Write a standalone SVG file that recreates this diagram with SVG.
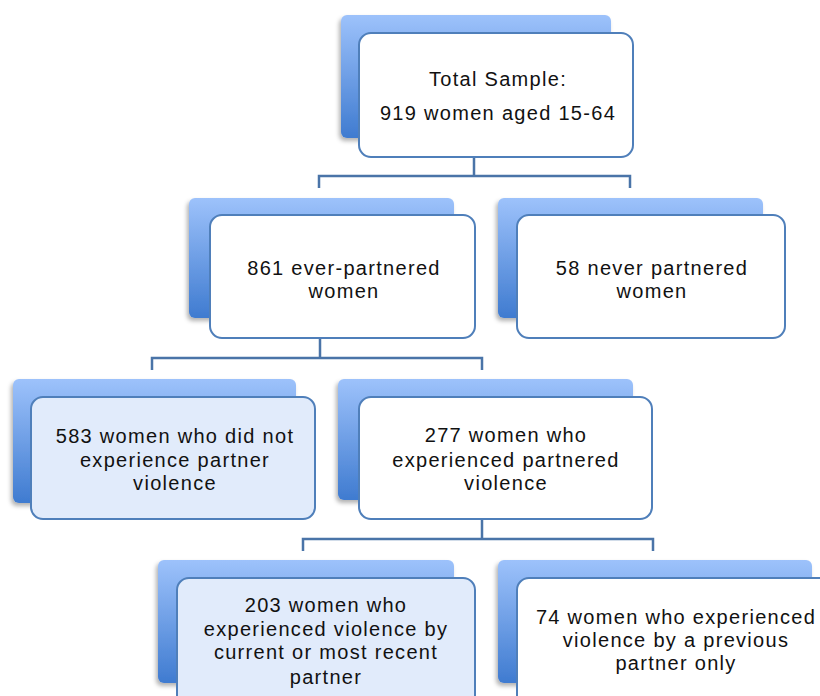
<svg xmlns="http://www.w3.org/2000/svg" width="820" height="696" viewBox="0 0 820 696">
  <defs>
    <linearGradient id="g" x1="0" y1="0" x2="0" y2="1">
      <stop offset="0" stop-color="#9dc2fb"/>
      <stop offset="1" stop-color="#3f7bd0"/>
    </linearGradient>
    <filter id="sh" x="-10%" y="-10%" width="120%" height="125%">
      <feDropShadow dx="-2" dy="3" stdDeviation="2" flood-color="#000" flood-opacity="0.3"/>
    </filter>
  </defs>
  <style>
    .back { fill: url(#g); filter: url(#sh); }
    .front { fill: #ffffff; stroke: #4f7fba; stroke-width: 2; }
    .front.lb { fill: #e1ebfb; }
    .conn { fill: none; stroke: #4a74a8; stroke-width: 2.5; }
    text { font-family: "Liberation Sans", Arial, sans-serif; font-size: 20px; fill: #111; text-anchor: middle; letter-spacing: 1.3px; }
  </style>
  <rect width="820" height="696" fill="#ffffff"/>

  <g id="connectors">
    <path class="conn" d="M474 157 V176 M319 188 V176 H630 V188"/>
    <path class="conn" d="M320 338 V358 M152 370 V358 H482 V370"/>
    <path class="conn" d="M482 519 V539 M303 551 V539 H653 V551"/>
  </g>

  <g id="n1">
    <rect class="back" x="341" y="15" width="270" height="123" rx="6"/>
    <rect class="front" x="359" y="33" width="274" height="124" rx="12"/>
    <text x="498" y="86">Total Sample:</text>
    <text x="498" y="120">919 women aged 15-64</text>
  </g>

  <g id="n2">
    <rect class="back" x="189" y="198" width="265" height="120" rx="6"/>
    <rect class="front" x="210" y="215" width="265" height="123" rx="12"/>
    <text x="344" y="275">861 ever-partnered</text>
    <text x="344" y="298">women</text>
  </g>

  <g id="n3">
    <rect class="back" x="498" y="198" width="265" height="120" rx="6"/>
    <rect class="front" x="517" y="215" width="268" height="123" rx="12"/>
    <text x="652" y="275">58 never partnered</text>
    <text x="652" y="298">women</text>
  </g>

  <g id="n4">
    <rect class="back" x="13" y="379" width="283" height="124" rx="6"/>
    <rect class="front lb" x="31" y="397" width="284" height="122" rx="12"/>
    <text x="175" y="443">583 women who did not</text>
    <text x="175" y="467">experience partner</text>
    <text x="175" y="490">violence</text>
  </g>

  <g id="n5">
    <rect class="back" x="338" y="379" width="295" height="121" rx="6"/>
    <rect class="front" x="359" y="397" width="293" height="122" rx="12"/>
    <text x="506" y="442">277 women who</text>
    <text x="506" y="467">experienced partnered</text>
    <text x="506" y="490">violence</text>
  </g>

  <g id="n6">
    <rect class="back" x="158" y="560" width="296" height="123" rx="6"/>
    <rect class="front lb" x="177" y="578" width="298" height="130" rx="12"/>
    <text x="326" y="612">203 women who</text>
    <text x="326" y="636">experienced violence by</text>
    <text x="326" y="659">current or most recent</text>
    <text x="326" y="684">partner</text>
  </g>

  <g id="n7">
    <rect class="back" x="498" y="560" width="314" height="123" rx="6"/>
    <rect class="front" x="517" y="578" width="320" height="130" rx="12"/>
    <text x="676" y="624">74 women who experienced</text>
    <text x="676" y="647">violence by a previous</text>
    <text x="676" y="670">partner only</text>
  </g>
</svg>
